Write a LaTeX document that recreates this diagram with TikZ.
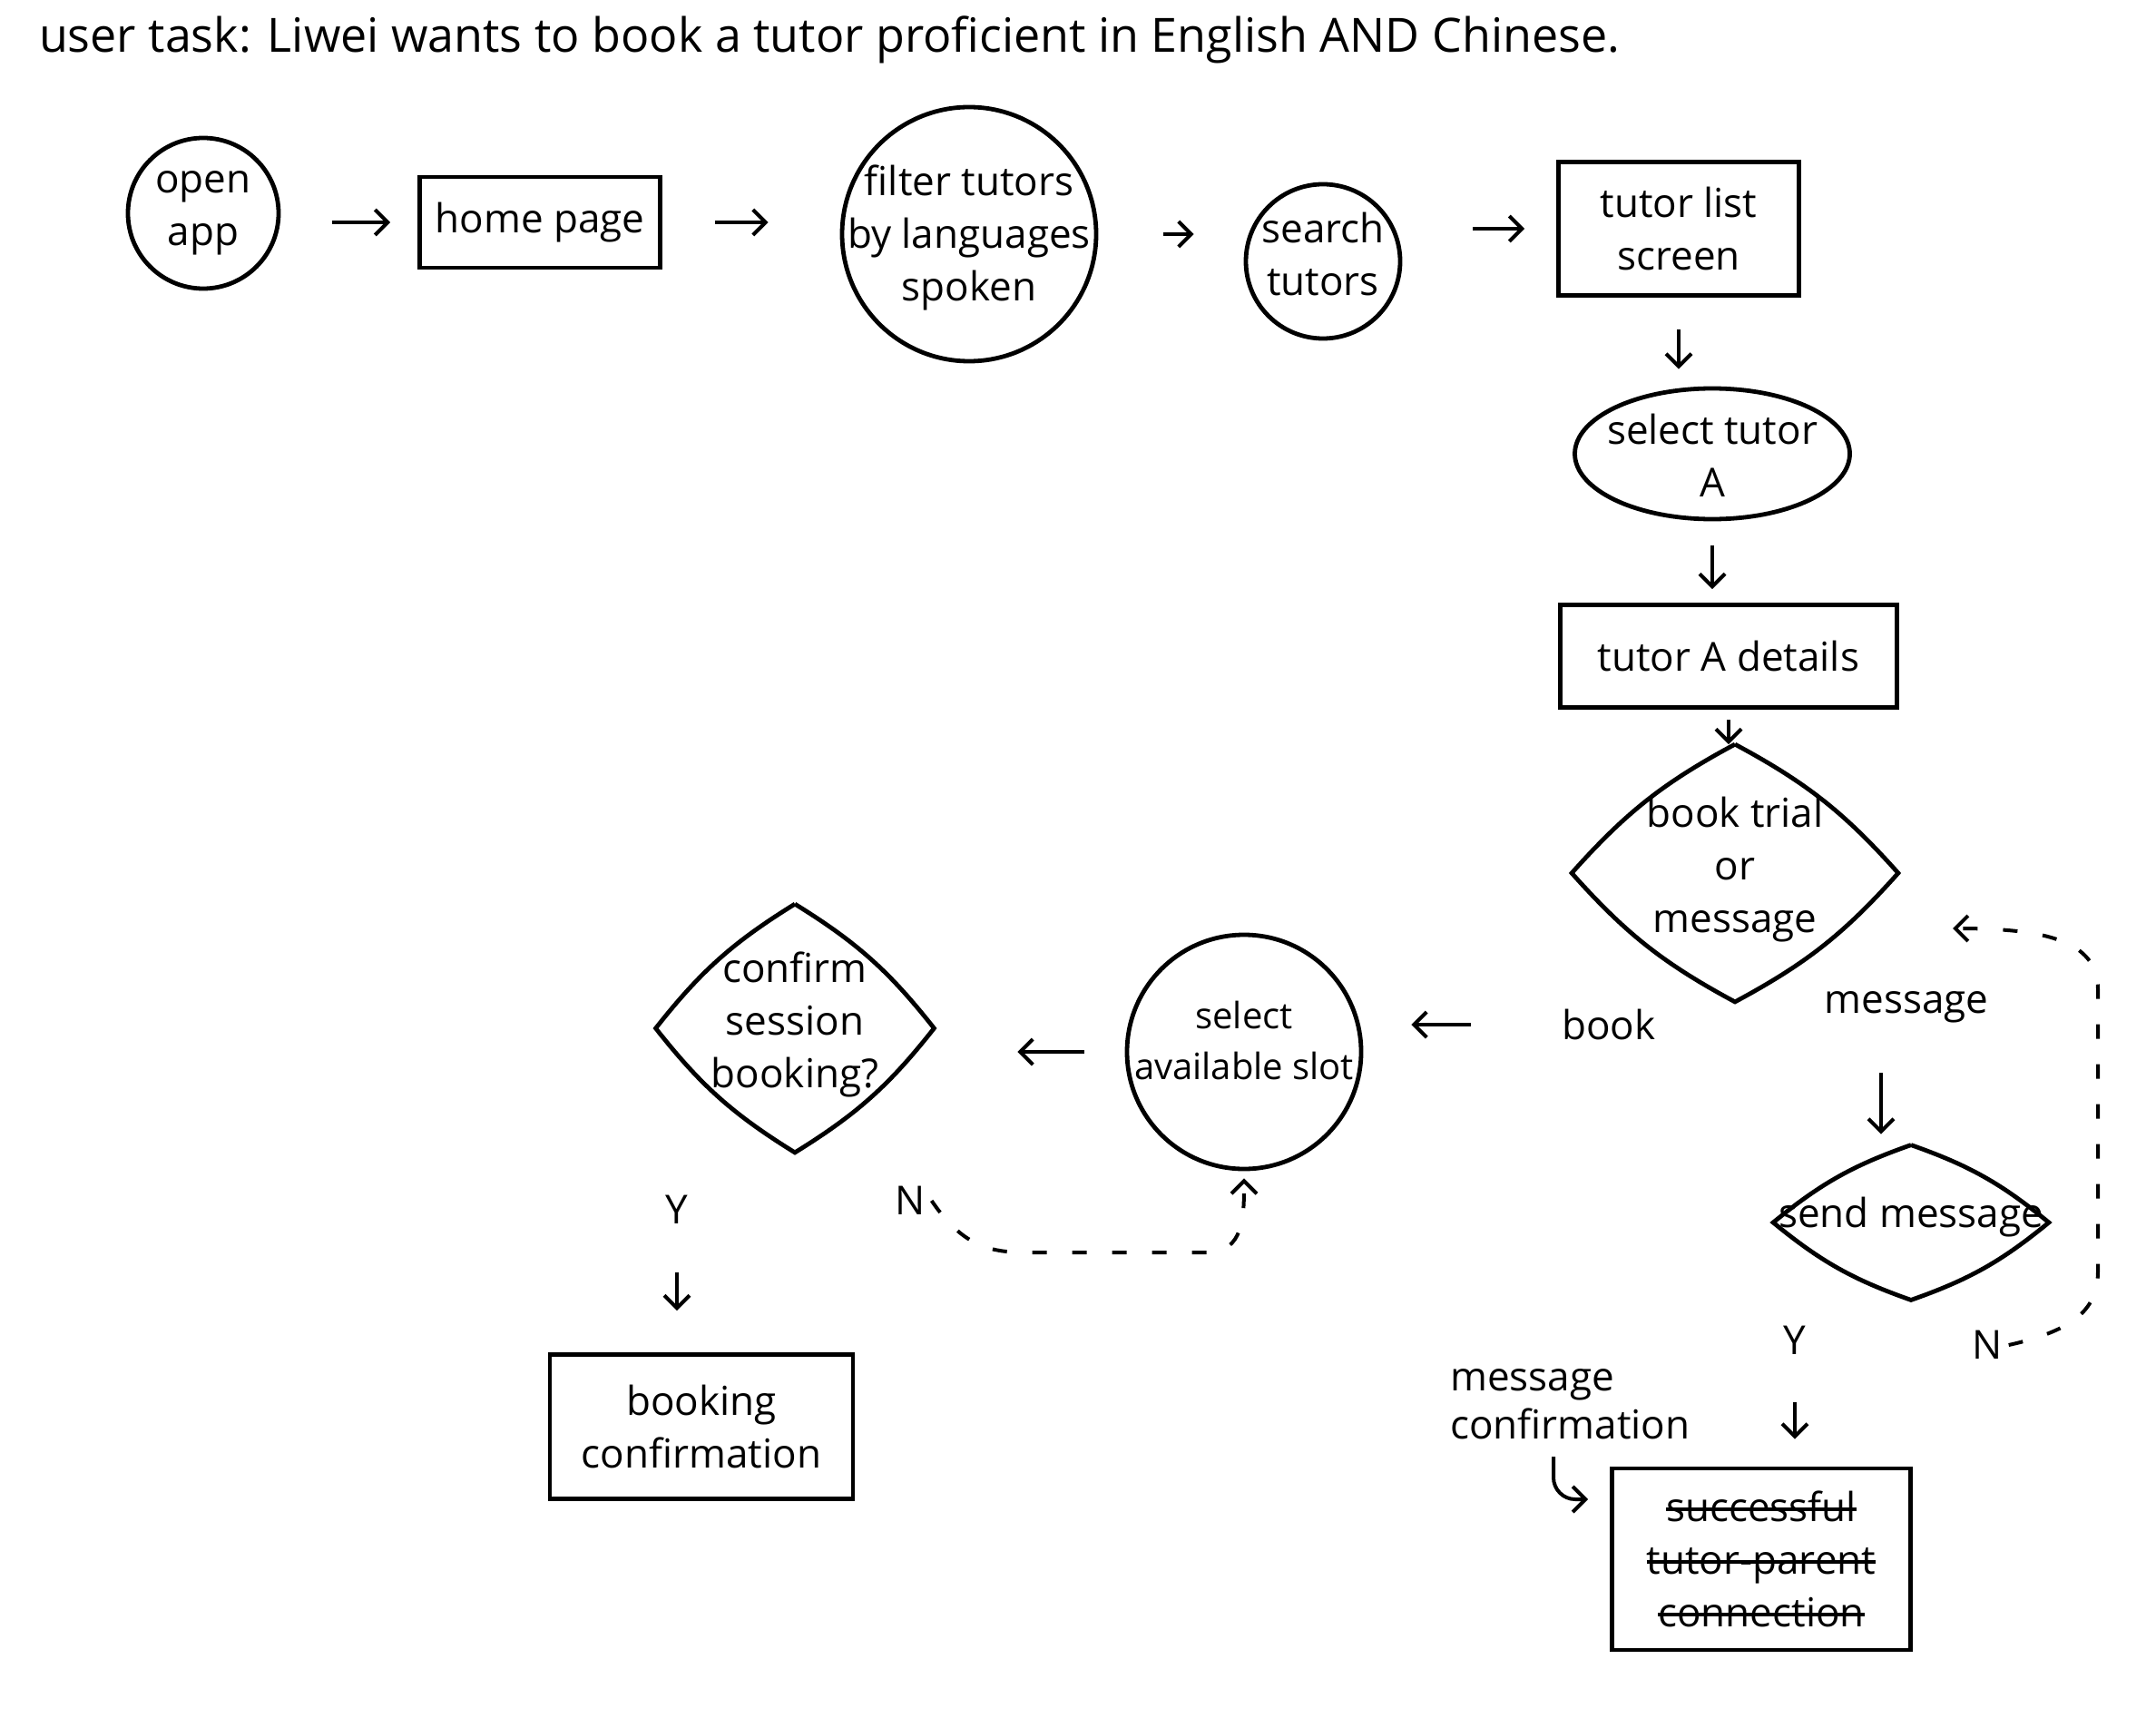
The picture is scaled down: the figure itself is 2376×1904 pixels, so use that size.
\documentclass[tikz,border=0pt]{standalone}
\usepackage{fontspec}
\setmainfont{Open Sans}
\usetikzlibrary{shapes.geometric,arrows.meta}
\newsavebox\strkbox
\newcommand\mystrike[1]{\sbox\strkbox{#1}\rlap{\usebox\strkbox}\rule[0.27em]{\wd\strkbox}{1.8pt}}
\begin{document}
\begin{tikzpicture}[x=0.5pt,y=-0.5pt,
  every node/.style={font=\fontsize{22}{29}\selectfont},
  box/.style={draw,line width=2.4pt,rectangle,inner sep=0pt,align=center},
  circ/.style={draw,line width=2.4pt,circle,inner sep=0pt},
  oval/.style={draw,line width=2.4pt,ellipse,inner sep=0pt},
  dia/.style={diamond,inner sep=0pt},
  outline/.style={line width=2.4pt},
  txt/.style={align=center,inner sep=1pt},
  arr/.style={-{Straight Barb[length=7pt,width=14pt,line width=2pt]},line width=2pt},
  dashline/.style={dash pattern=on 8pt off 14pt},
]
\useasboundingbox (0,0) rectangle (2376,1904);
\fill[white] (0,0) rectangle (2376,1904);

% title
\node[anchor=west,font=\fontsize{26}{32}\selectfont] (title) at (36,44)
  {user task: Liwei wants to book a tutor proficient in English AND Chinese.};

% top row
\node[circ,minimum size=83pt] (open) at (224,235) {};
\node[txt] (opent) at (224,235) {open\\app};
\node[box,minimum width=132.5pt,minimum height=50pt] (home) at (595,245) {home page};
\node[circ,minimum size=140pt] (filter) at (1068,258) {};
\node[txt] (filtert) at (1068,262) {filter tutors\\by languages\\spoken};
\node[circ,minimum size=85pt] (search) at (1458,288) {};
\node[txt] (searcht) at (1458,280) {search\\tutors};
\node[box,minimum width=132.5pt,minimum height=73.5pt] (list) at (1850,252) {tutor list\\screen};

% right column
\node[oval,minimum width=151.5pt,minimum height=72pt] (selA) at (1887,500) {};
\node[txt] (selAt) at (1887,502) {select tutor\\A};
\node[box,minimum width=185.5pt,minimum height=56.5pt] (details) at (1905,723) {tutor A details};
\node[dia,minimum width=179.5pt,minimum height=141.5pt] (dec1) at (1912,962) {};
\draw[outline] (dec1.north) to[bend left=10] (dec1.east) to[bend left=10] (dec1.south)
  to[bend left=10] (dec1.west) to[bend left=10] (dec1.north);
\node[txt] (dec1t) at (1912,958) {book trial\\or\\message};
\node[dia,minimum width=151.5pt,minimum height=85pt] (send) at (2106,1347) {};
\draw[outline] (send.north) to[bend left=10] (send.east) to[bend left=10] (send.south)
  to[bend left=10] (send.west) to[bend left=10] (send.north);
\node[txt] (sendt) at (2106,1341) {send message};
\node[box,minimum width=164.5pt,minimum height=100pt] (final) at (1941,1718)
  {\mystrike{successful}\\\mystrike{tutor-parent}\\\mystrike{connection}};

% left part
\node[circ,minimum size=129pt] (slot) at (1371,1159) {};
\node[txt,font=\fontsize{20}{28}\selectfont] (slott) at (1371,1146) {select\\available slot};
\node[dia,minimum width=153pt,minimum height=136.5pt] (conf) at (876,1133) {};
\draw[outline] (conf.north) to[bend left=10] (conf.east) to[bend left=10] (conf.south)
  to[bend left=10] (conf.west) to[bend left=10] (conf.north);
\node[txt] (conft) at (876,1129) {confirm\\session\\booking?};
\node[box,minimum width=167pt,minimum height=79.5pt] (bookconf) at (773,1572) {booking\\confirmation};

% labels
\node (bookl) at (1773,1129) {book};
\node (msgl) at (2101,1110) {message};
\node (Y1) at (746,1333) {Y};
\node (N1) at (1003,1323) {N};
\node (Y2) at (1978,1477) {Y};
\node (N2) at (2190,1482) {N};
\node[anchor=west,align=left,font=\fontsize{22}{26.5}\selectfont] (msgconf) at (1591,1547) {message\\confirmation};

% free ends
\coordinate (bk) at (1621,1129);
\coordinate (ms) at (2073,1182);
\coordinate (m1) at (2152,1023);
\coordinate (hk) at (1712,1605);
\coordinate (hk2) at (1750,1652);

% connectors
\draw[arr,shorten <=28.5pt,shorten >=15pt] (open.east |- home) -- (home.west);
\draw[arr,shorten <=29pt,shorten >=39.5pt] (home.east) -- (filter.west |- home.east);
\draw[arr,shorten <=36pt,shorten >=27.5pt] (filter.east) -- (search.west |- filter.east);
\draw[arr,shorten <=39pt,shorten >=17.5pt] (search.east |- list) -- (list.west);
\draw[arr,shorten <=17.5pt,shorten >=9.5pt] (list.south) -- (list.south |- selA.north);
\draw[arr,shorten <=13.5pt,shorten >=7.5pt] (selA.south) -- (selA.south |- details.north);
\draw[arr,shorten <=5.5pt] (details.south) -- (details.south |- dec1.north);
\draw[arr,shorten >=26.5pt] (bk) -- (slot.east |- bk);
\draw[arr,shorten <=22.5pt,shorten >=46pt] (slot.west) -- (conf.east |- slot.west);
\draw[arr,shorten <=66pt,shorten >=23pt] (Y1 |- conf.south) -- (Y1 |- bookconf.north);
\draw[arr,dashline,shorten >=4pt] (N1.east) .. controls (1060,1372) and (1090,1380) .. (1130,1380)
  -- (1330,1380) .. controls (1371,1380) and (1371,1340) .. (slot.south);
\draw[arr,shorten >=6pt] (ms) -- (ms |- send.north);
\draw[arr,shorten <=56.5pt,shorten >=15pt] (Y2 |- send.south) -- (Y2 |- final.north);
\draw[arr,dashline] (N2.east) .. controls (2290,1465) and (2312,1440) .. (2312,1400)
  -- (2312,1090) .. controls (2312,1035) and (2250,1023) .. (m1);
\draw[arr,rounded corners=12pt] (hk) |- (hk2);
\end{tikzpicture}
\end{document}
